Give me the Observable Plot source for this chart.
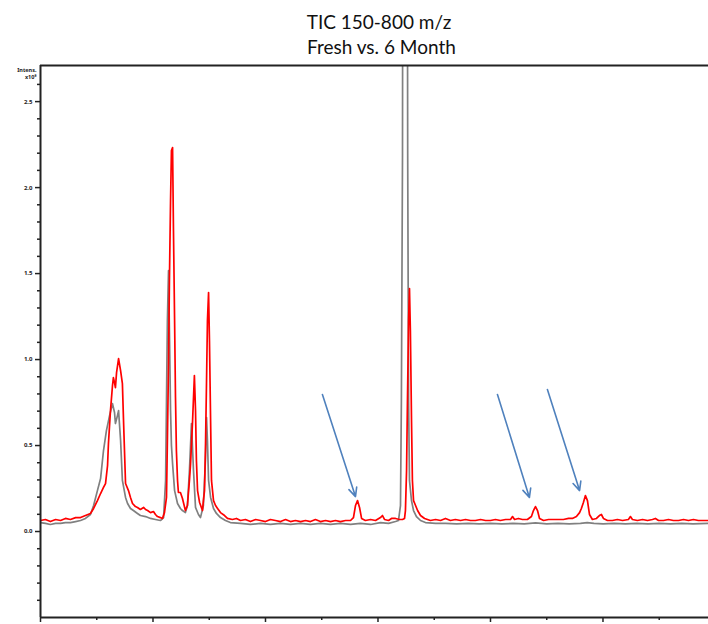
<!DOCTYPE html>
<html>
<head>
<meta charset="utf-8">
<script src="https://cdn.jsdelivr.net/npm/d3@7"></script>
<script src="https://cdn.jsdelivr.net/npm/@observablehq/plot@0.6"></script>
<style>
  html, body { margin: 0; padding: 0; background: #fff; }
  #title { width: 708px; height: 60px; box-sizing: border-box; padding-top: 9px; padding-left: 50px;
           font-family: Lato, "Open Sans", sans-serif; font-size: 19px; line-height: 25px; color: #111; text-align: center; }
  #chart svg { display: block; }
</style>
</head>
<body>
<div id="title">TIC 150-800 m/z<br>&nbsp;Fresh vs. 6 Month</div>
<div id="chart"></div>
<script>
// Time [min], Intensity [x10^8]
const sixMonthTrace = [
  [0,0.064],[0.22,0.070],[0.44,0.058],[0.67,0.070],[0.89,0.064],[1.11,0.076],[1.33,0.070],[1.56,0.081],
  [1.78,0.081],[2.0,0.093],[2.22,0.105],[2.36,0.134],[2.53,0.180],[2.67,0.221],[2.80,0.256],[2.89,0.279],
  [2.98,0.384],[3.02,0.512],[3.11,0.703],[3.20,0.849],[3.24,0.895],[3.29,0.866],[3.33,0.837],[3.38,0.924],
  [3.47,1.006],[3.56,0.936],[3.64,0.860],[3.69,0.645],[3.78,0.279],[3.91,0.238],[4.0,0.198],[4.09,0.163],
  [4.22,0.145],[4.31,0.140],[4.44,0.128],[4.58,0.140],[4.67,0.128],[4.76,0.122],[4.89,0.110],[5.02,0.116],
  [5.11,0.099],[5.20,0.087],[5.33,0.081],[5.42,0.076],[5.51,0.110],[5.60,0.198],[5.64,0.529],[5.69,0.977],
  [5.73,1.459],[5.78,1.924],[5.82,2.215],[5.87,2.233],[5.91,1.750],[5.96,1.227],[6.0,0.779],[6.04,0.471],
  [6.09,0.297],[6.13,0.227],[6.22,0.227],[6.31,0.192],[6.44,0.122],[6.53,0.151],[6.62,0.297],[6.67,0.395],
  [6.76,0.645],[6.84,0.907],[6.89,0.703],[6.93,0.413],[6.98,0.238],[7.07,0.169],[7.20,0.122],[7.24,0.180],
  [7.29,0.238],[7.33,0.471],[7.38,0.878],[7.42,1.227],[7.47,1.390],[7.51,1.110],[7.56,0.645],[7.60,0.297],
  [7.69,0.180],[7.78,0.151],[7.87,0.134],[8.0,0.110],[8.18,0.093],[8.31,0.076],[8.53,0.070],[8.71,0.076],
  [8.89,0.064],[9.11,0.070],[9.33,0.058],[9.56,0.070],[9.78,0.064],[10.0,0.058],[10.22,0.070],[10.44,0.064],
  [10.67,0.058],[10.89,0.070],[11.11,0.058],[11.33,0.064],[11.56,0.058],[11.78,0.064],[12.0,0.058],[12.22,0.070],
  [12.44,0.058],[12.67,0.064],[12.89,0.058],[13.11,0.064],[13.33,0.058],[13.56,0.064],[13.78,0.064],[13.91,0.081],
  [14.0,0.151],[14.09,0.180],[14.18,0.140],[14.27,0.076],[14.44,0.064],[14.67,0.070],[14.89,0.064],[15.11,0.081],
  [15.20,0.093],[15.29,0.070],[15.47,0.064],[15.60,0.076],[15.78,0.076],[15.96,0.070],[16.09,0.070],[16.18,0.076],
  [16.22,0.122],[16.27,0.355],[16.31,0.762],[16.36,1.227],[16.40,1.413],[16.44,1.169],[16.49,0.645],[16.53,0.297],
  [16.58,0.180],[16.67,0.151],[16.76,0.122],[16.89,0.093],[17.07,0.076],[17.33,0.064],[17.56,0.070],[17.78,0.064],
  [18.0,0.076],[18.22,0.064],[18.44,0.070],[18.67,0.064],[18.89,0.070],[19.11,0.064],[19.33,0.064],[19.56,0.070],
  [19.78,0.064],[20.0,0.064],[20.22,0.070],[20.44,0.064],[20.67,0.070],[20.89,0.070],[20.98,0.087],[21.07,0.070],
  [21.24,0.076],[21.42,0.070],[21.64,0.070],[21.82,0.087],[21.91,0.122],[22.0,0.145],[22.09,0.122],[22.18,0.076],
  [22.36,0.064],[22.58,0.070],[22.80,0.070],[23.02,0.070],[23.24,0.070],[23.47,0.076],[23.64,0.076],[23.82,0.087],
  [23.96,0.110],[24.04,0.134],[24.13,0.169],[24.22,0.209],[24.31,0.180],[24.40,0.099],[24.53,0.070],[24.71,0.076],
  [24.84,0.093],[24.93,0.099],[25.02,0.076],[25.20,0.064],[25.42,0.064],[25.64,0.070],[25.87,0.064],[26.13,0.070],
  [26.22,0.087],[26.31,0.070],[26.53,0.064],[26.76,0.070],[26.98,0.064],[27.20,0.070],[27.33,0.076],[27.47,0.064],
  [27.69,0.064],[27.91,0.070],[28.13,0.064],[28.36,0.064],[28.58,0.070],[28.80,0.064],[29.02,0.070],[29.24,0.064],
  [29.47,0.064],[29.69,0.064]
];
const freshTrace = [
  [0,0.052],[0.22,0.047],[0.44,0.041],[0.67,0.047],[0.89,0.047],[1.11,0.052],[1.33,0.052],[1.56,0.058],
  [1.78,0.064],[2.0,0.076],[2.22,0.099],[2.36,0.151],[2.53,0.238],[2.67,0.308],[2.80,0.471],[2.93,0.587],
  [3.07,0.674],[3.20,0.744],[3.29,0.692],[3.33,0.628],[3.42,0.674],[3.47,0.703],[3.56,0.529],[3.64,0.297],
  [3.78,0.198],[3.87,0.163],[4.0,0.134],[4.13,0.122],[4.31,0.105],[4.44,0.093],[4.67,0.087],[4.89,0.076],
  [5.11,0.070],[5.33,0.064],[5.47,0.081],[5.56,0.297],[5.60,0.762],[5.64,1.227],[5.69,1.517],[5.73,1.169],
  [5.78,0.703],[5.82,0.500],[5.87,0.395],[5.96,0.238],[6.09,0.163],[6.22,0.134],[6.31,0.122],[6.44,0.110],
  [6.53,0.151],[6.62,0.355],[6.71,0.628],[6.80,0.355],[6.89,0.140],[7.02,0.099],[7.11,0.081],[7.24,0.151],
  [7.33,0.413],[7.38,0.663],[7.42,0.529],[7.47,0.297],[7.56,0.198],[7.69,0.134],[7.82,0.105],[8.0,0.081],
  [8.22,0.064],[8.44,0.052],[8.89,0.047],[9.33,0.041],[9.78,0.047],[10.22,0.041],[10.67,0.047],[11.11,0.041],
  [11.56,0.047],[12.0,0.041],[12.44,0.047],[12.89,0.041],[13.33,0.047],[13.78,0.041],[14.22,0.047],[14.67,0.041],
  [15.11,0.052],[15.47,0.047],[15.78,0.058],[15.91,0.064],[16.0,0.151],[16.04,0.762],[16.09,2.2],[16.11,5.0],
  [16.20,8.0],[16.29,5.0],[16.32,2.2],[16.36,0.762],[16.40,0.297],[16.49,0.180],[16.58,0.122],[16.71,0.087],
  [16.89,0.064],[17.11,0.052],[17.56,0.047],[18.0,0.047],[18.5,0.044],[19.0,0.047],[19.5,0.044],[20.0,0.047],
  [20.5,0.044],[21.0,0.047],[21.5,0.044],[22.0,0.050],[22.5,0.044],[23.0,0.047],[23.5,0.044],[24.0,0.047],
  [24.3,0.052],[24.6,0.047],[25.0,0.044],[25.5,0.047],[26.0,0.044],[26.5,0.047],[27.0,0.044],[27.5,0.047],
  [28.0,0.044],[28.5,0.047],[29.0,0.044],[29.69,0.047]
];
const arrowNotes = [
  {x1: 12.53, y1: 0.797, x2: 14.00, y2: 0.203},
  {x1: 20.31, y1: 0.797, x2: 21.73, y2: 0.198},
  {x1: 22.53, y1: 0.826, x2: 23.96, y2: 0.238}
];
const yMajorTicks = [0.0, 0.5, 1.0, 1.5, 2.0, 2.5];
const yMinorTicks = [-0.4,-0.3,-0.2,-0.1,0.1,0.2,0.3,0.4,0.6,0.7,0.8,0.9,1.1,1.2,1.3,1.4,1.6,1.7,1.8,1.9,2.1,2.2,2.3,2.4,2.6];
const xMajorTicks = [0, 5, 10, 15, 20, 25];
const xMinorTicks = [2.5, 7.5, 12.5, 17.5, 22.5, 27.5];
const yLabel = ["Intens.", "x10\u2078"];
const xDomain = [0, 29.69];
const yDomain = [-0.5, 2.71];

const axisColor = "#222";
const chart = Plot.plot({
  width: 708,
  height: 564,
  marginLeft: 40,
  marginRight: 0,
  marginTop: 5,
  marginBottom: 7,
  style: {background: "#fff", overflow: "visible"},
  x: {domain: xDomain, label: null},
  y: {domain: yDomain, label: null},
  marks: [
    Plot.line(freshTrace, {x: d => d[0], y: d => d[1], stroke: "#808080", strokeWidth: 1.7, clip: true}),
    Plot.line(sixMonthTrace, {x: d => d[0], y: d => d[1], stroke: "#ff0000", strokeWidth: 1.7, clip: true}),
    Plot.arrow(arrowNotes, {x1: "x1", y1: "y1", x2: "x2", y2: "y2", stroke: "#4f81bd", strokeWidth: 1.6, headLength: 9, headAngle: 50}),
    Plot.axisY({ticks: yMajorTicks, tickSize: 5, tickPadding: 3, tickFormat: d3.format(".1f"),
      fontSize: 6, fontWeight: "bold", stroke: axisColor, strokeWidth: 1.5, fill: axisColor, label: null}),
    Plot.axisY({ticks: yMinorTicks, tickSize: 3, tickFormat: () => "", stroke: axisColor, strokeWidth: 1.5, label: null}),
    Plot.axisX({ticks: xMajorTicks, tickSize: 5, tickFormat: () => "", stroke: axisColor, strokeWidth: 1.5, label: null}),
    Plot.axisX({ticks: xMinorTicks, tickSize: 3, tickFormat: () => "", stroke: axisColor, strokeWidth: 1.5, label: null}),
    Plot.ruleX([xDomain[0]], {stroke: axisColor, strokeWidth: 2}),
    Plot.ruleY(yDomain, {stroke: axisColor, strokeWidth: 2}),
    Plot.text([yLabel.join("\n")], {frameAnchor: "top-left", textAnchor: "end", dx: -4, dy: 1,
      fontSize: 5.5, fontWeight: "bold", fill: axisColor, lineHeight: 1.35})
  ]
});
document.getElementById("chart").appendChild(chart);
</script>
</body>
</html>
